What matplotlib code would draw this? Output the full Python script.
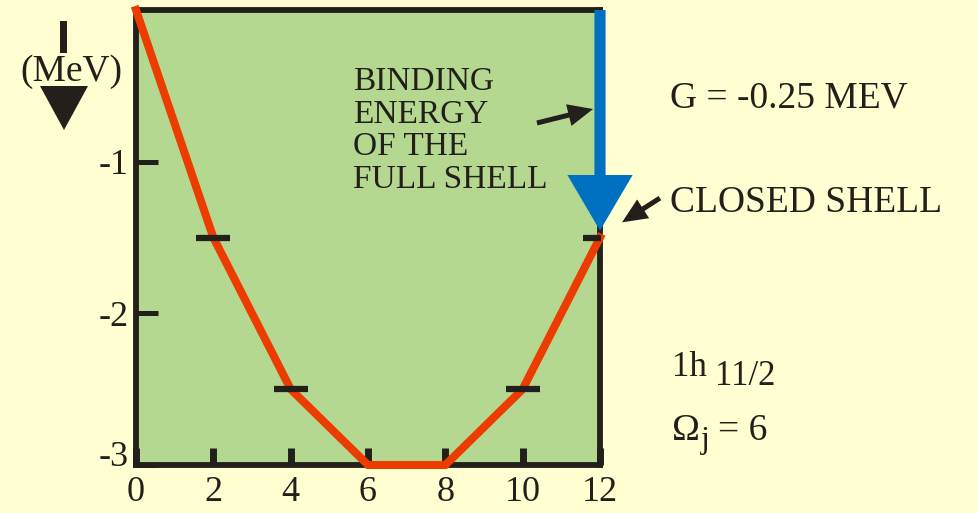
"""Pairing energy of a j-shell filled with nucleon pairs."""

import matplotlib

matplotlib.use("Agg")
import matplotlib.pyplot as plt
import matplotlib.transforms as mtransforms
from matplotlib.patches import Polygon, Rectangle

# number of nucleons in the 1h11/2 shell and the pairing energy (MeV)
n_nucleons = [0, 2, 4, 6, 8, 10, 12]
pair_energy = [0.0, -1.5, -2.5, -3.0, -3.0, -2.5, -1.5]
marked_n = [2, 4, 10, 12]

x_ticks = [0, 2, 4, 6, 8, 10, 12]
x_tick_labels = ["0", "2", "4", "6", "8", "10", "12"]
y_ticks = [-1, -2, -3]
y_tick_labels = ["-1", "-2", "-3"]

BG = "#FFFFD2"
PANEL = "#B5D891"
INK = "#231F1A"
RED = "#EC3C00"
BLUE = "#0070C0"

plt.rcParams["font.family"] = ["Liberation Serif", "DejaVu Serif"]
plt.rcParams["axes.unicode_minus"] = False

W, H = 977, 513
fig = plt.figure(figsize=(W / 100, H / 100), dpi=100, facecolor=BG)
ax = fig.add_axes([136 / W, 1 - 465 / H, 464 / W, 455 / H])
ax.set_facecolor(PANEL)
ax.set_xlim(0, 12)
ax.set_ylim(-3, 0)

for side in ax.spines.values():
    side.set_linewidth(4.2)
    side.set_color(INK)

ax.set_xticks(x_ticks)
ax.set_xticklabels(x_tick_labels)
ax.set_yticks(y_ticks)
ax.set_yticklabels(y_tick_labels)
ax.tick_params(axis="x", direction="in", length=12, width=5, color=INK,
               labelsize=26, labelcolor=INK, pad=8)
ax.tick_params(axis="y", direction="in", length=16, width=3.6, color=INK,
               labelsize=26, labelcolor=INK, pad=5)
# the bottom value label sits a little above the corner
lift = mtransforms.ScaledTranslation(0, 8 / 72, fig.dpi_scale_trans)
bottom_label = ax.get_yticklabels()[-1]
bottom_label.set_transform(bottom_label.get_transform() + lift)

# pairing energy curve and the level dashes
ax.plot(n_nucleons, pair_energy, color=RED, lw=5.8, solid_joinstyle="miter",
        clip_on=False, zorder=4)
marked_e = [pair_energy[n_nucleons.index(n)] for n in marked_n]
ax.plot(marked_n, marked_e, ls="none", marker="_", ms=24, mew=4.5,
        color=INK, zorder=5)

# binding energy of the full shell
n_full = n_nucleons[-1]
e_full = pair_energy[-1]
ax.annotate("", xy=(n_full, e_full), xytext=(n_full, 0),
            arrowprops=dict(arrowstyle="simple,head_length=2.0,head_width=2.35,tail_width=0.4",
                            mutation_scale=20, fc=BLUE, ec="none", lw=0,
                            shrinkA=0, shrinkB=5),
            annotation_clip=False, zorder=6)

text_kw = dict(color=INK, clip_on=False)
for i, line in enumerate(["BINDING", "ENERGY", "OF THE", "FULL SHELL"]):
    ax.text(5.61, -0.527 - 0.215 * i, line, fontsize=24, ha="left",
            va="baseline", **text_kw)

small_arrow = dict(arrowstyle="simple,head_length=0.9,head_width=0.8,tail_width=0.18",
                   mutation_scale=20, fc=INK, ec="none", lw=0,
                   shrinkA=0, shrinkB=0)
ax.annotate("", xy=(11.82, -0.653), xytext=(10.37, -0.745),
            arrowprops=small_arrow, annotation_clip=False)
ax.annotate("", xy=(12.57, -1.40), xytext=(13.55, -1.24),
            arrowprops=small_arrow, annotation_clip=False)

ax.text(13.81, -0.64, "G = -0.25 MEV", fontsize=27, va="baseline", **text_kw)
ax.text(13.81, -1.33, "CLOSED SHELL", fontsize=27, va="baseline", **text_kw)
ax.text(13.86, -2.41, "1h", fontsize=25, va="baseline", **text_kw)
ax.text(14.97, -2.47, "11/2", fontsize=25, va="baseline", **text_kw)
ax.text(13.86, -2.835, "\u03a9", fontsize=27, va="baseline", **text_kw)
ax.text(14.62, -2.885, "j", fontsize=23, va="baseline", **text_kw)
ax.text(15.05, -2.835, "= 6", fontsize=27, va="baseline", **text_kw)

# energy-axis label with its downward arrow
fig.text(71 / W, 1 - 81 / H, "(MeV)", fontsize=27, color=INK,
         ha="center", va="baseline")
fig.patches.append(Rectangle((60 / W, 1 - 53 / H), 7 / W, 32 / H,
                             transform=fig.transFigure, fc=INK, ec="none"))
fig.patches.append(Polygon([(40 / W, 1 - 86 / H), (88 / W, 1 - 86 / H),
                            (64 / W, 1 - 130 / H)], closed=True,
                           transform=fig.transFigure, fc=INK, ec="none"))

fig.savefig("out.png", dpi=100, facecolor=BG)
